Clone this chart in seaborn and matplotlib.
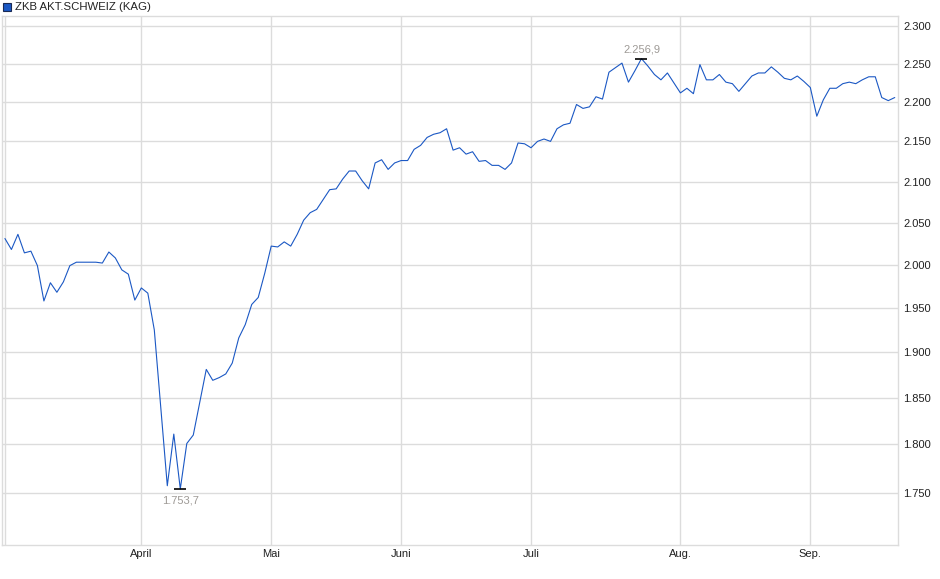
import numpy as np
import pandas as pd
import matplotlib
matplotlib.use("Agg")
import matplotlib.pyplot as plt
from matplotlib.patches import Rectangle
from matplotlib.ticker import FixedLocator, NullLocator
import seaborn as sb

# daily NAV, one list per month (CHF)
mar_vals = [2031, 2018, 2036, 2014, 2016, 1999, 1958, 1979, 1968, 1980, 1999,
            2003, 2003, 2003, 2003, 2002, 2015, 2008, 1994, 1989, 1959]
apr_vals = [1973, 1967, 1925, 1839, 1757, 1811, 1753.7, 1801, 1810, 1845,
            1881, 1869, 1872, 1876, 1888, 1916, 1931, 1954, 1962, 1990]
may_vals = [2022, 2021, 2027, 2022, 2036, 2053, 2062, 2066, 2078, 2090,
            2091, 2103, 2113, 2113, 2101, 2091, 2123, 2127, 2115, 2123]
jun_vals = [2126, 2126, 2140, 2145, 2155, 2159, 2161, 2166, 2139, 2142,
            2134, 2137, 2125, 2126, 2120, 2120, 2115, 2123, 2148, 2147]
jul_vals = [2142, 2150, 2153, 2150, 2166, 2171, 2173, 2197, 2192, 2194,
            2207, 2204, 2239, 2245, 2251, 2226, 2241, 2256.9, 2247, 2236,
            2229, 2238, 2225]
aug_vals = [2212, 2218, 2211, 2249, 2229, 2229, 2236, 2226, 2224, 2214,
            2224, 2234, 2238, 2238, 2246, 2239, 2231, 2229, 2234, 2227]
sep_vals = [2219, 2182, 2203, 2218, 2218, 2224, 2226, 2224, 2229, 2233,
            2233, 2206, 2202, 2206]

holidays = ['2025-04-18', '2025-04-21', '2025-05-01', '2025-05-29',
            '2025-06-09', '2025-08-01']
month_names = ['', 'April', 'Mai', 'Juni', 'Juli', 'Aug.', 'Sep.']
y_ticks = [1750, 1800, 1850, 1900, 1950, 2000, 2050, 2100, 2150, 2200, 2250, 2300]
series_name = 'ZKB AKT.SCHWEIZ (KAG)'

values = mar_vals + apr_vals + may_vals + jun_vals + jul_vals + aug_vals + sep_vals
dates = pd.bdate_range('2025-03-03', '2025-09-18', freq='C', holidays=holidays)
df = pd.DataFrame({'date': dates, 'nav': values})
df['pos'] = np.arange(len(df))

def de_num(v, dec=0):
    s = f"{v:,.{dec}f}"
    return s.replace(',', 'X').replace('.', ',').replace('X', '.')

sb.set_style("white")
plt.rcParams['font.family'] = ['Liberation Sans', 'DejaVu Sans']

fig = plt.figure(figsize=(9.4, 5.79), dpi=100)
ax = fig.add_axes([2 / 940, 1 - 545 / 579, 896 / 940, 529 / 579])

grid_c = '#dcdcdc'
sb.lineplot(data=df, x='pos', y='nav', ax=ax, color='#1b58c4', lw=0.8)

ax.set_yscale('log')
ax.set_ylim(1697, 2314)
ax.set_xlim(-0.45, 137.5)

# month gridlines at first trading day of each month
month_start = df.groupby(df['date'].dt.month)['pos'].min().values
ax.xaxis.set_major_locator(FixedLocator(month_start))
ax.set_xticklabels(month_names)
ax.yaxis.set_major_locator(FixedLocator(y_ticks))
ax.yaxis.set_minor_locator(NullLocator())
ax.set_yticklabels([de_num(v) for v in y_ticks])
ax.yaxis.tick_right()
ax.tick_params(axis='both', length=0, labelsize=8, colors='#222222')
ax.tick_params(axis='y', pad=4)
ax.tick_params(axis='x', pad=3)
ax.grid(True, color=grid_c, lw=1)
for s in ax.spines.values():
    s.set_color(grid_c)
    s.set_linewidth(1)
ax.set_xlabel('')
ax.set_ylabel('')

# high / low markers
i_max = int(df['nav'].idxmax())
i_min = int(df['nav'].idxmin())
for i, off, va in [(i_max, 3, 'bottom'), (i_min, -5, 'top')]:
    v = df['nav'][i]
    ax.plot([i], [v], marker='_', ms=9, mew=1.2, color='black')
    ax.annotate(de_num(v, 1), (i, v), xytext=(0, off), textcoords='offset points',
                ha='center', va=va, fontsize=8, color='#9e9a96')

# legend box at top left
fig.patches.append(Rectangle((3 / 940, 1 - 11 / 579), 8 / 940, 8 / 579,
                             transform=fig.transFigure, facecolor='#1b58c4',
                             edgecolor='#1a2a55', lw=0.8))
fig.text(15 / 940, 1 - 6.5 / 579, series_name, fontsize=8.2, va='center',
         ha='left', color='#222222')

fig.savefig('out.png', dpi=100)
